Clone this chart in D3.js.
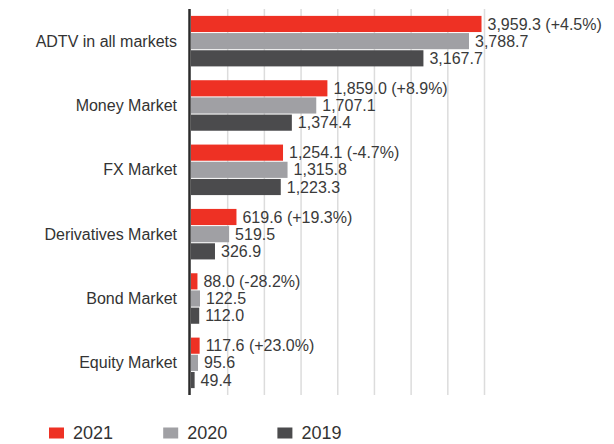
<!DOCTYPE html>
<html>
<head>
<meta charset="utf-8">
<script src="https://cdn.jsdelivr.net/npm/d3@7"></script>
<style>
  body { margin: 0; background: #fff; }
  svg { font-family: "Liberation Sans", Arial, sans-serif; }
</style>
</head>
<body>
<script>
// market categories, top to bottom
var categories = ["ADTV in all markets", "Money Market", "FX Market", "Derivatives Market", "Bond Market", "Equity Market"];
var years = ["2021", "2020", "2019"];
var values2021 = [3959.3, 1859.0, 1254.1, 619.6, 88.0, 117.6];
var values2020 = [3788.7, 1707.1, 1315.8, 519.5, 122.5, 95.6];
var values2019 = [3167.7, 1374.4, 1223.3, 326.9, 112.0, 49.4];
var gridTicks = [500, 1000, 1500, 2000, 2500, 3000, 3500, 4000];
var colors = ["#ee3124", "#a0a0a4", "#4b4b4d"];

var series = [values2021, values2020, values2019];

var width = 614, height = 444;

var svg = d3.select("body").append("svg")
    .attr("width", width)
    .attr("height", height);

var x = d3.scaleLinear()
    .domain([0, 4000])
    .range([191, 484.5]);

var y = d3.scaleBand()
    .domain(categories)
    .range([9, 395])
    .paddingInner(0.215)
    .paddingOuter(0.107);

var y1 = d3.scaleBand()
    .domain(years)
    .range([0, y.bandwidth()])
    .paddingInner(0.06);

var loc = d3.formatLocale({decimal: ".", thousands: ",", grouping: [3], currency: ["", ""], minus: "-"});
var fmtVal = loc.format(",.1f");
var fmtPct = loc.format("+.1%");

// gridlines
svg.append("g")
    .selectAll("line")
    .data(gridTicks)
  .enter().append("line")
    .attr("x1", function(d) { return x(d); })
    .attr("x2", function(d) { return x(d); })
    .attr("y1", 9)
    .attr("y2", 395)
    .attr("stroke", "#dcdcdc")
    .attr("stroke-width", 1.5);

// bars
years.forEach(function(yr, j) {
  var g = svg.append("g");
  g.selectAll("rect")
      .data(series[j])
    .enter().append("rect")
      .attr("x", x(0))
      .attr("y", function(d, i) { return y(categories[i]) + y1(yr); })
      .attr("width", function(d) { return x(d) - x(0); })
      .attr("height", y1.bandwidth())
      .attr("fill", colors[j]);

  g.selectAll("text")
      .data(series[j])
    .enter().append("text")
      .attr("x", function(d) { return x(d) + 6; })
      .attr("y", function(d, i) { return y(categories[i]) + y1(yr) + y1.bandwidth() / 2; })
      .attr("dy", "0.35em")
      .attr("font-size", 16)
      .attr("fill", "#3a3a3a")
      .text(function(d, i) {
        if (j == 0) return fmtVal(d) + " (" + fmtPct(d / values2020[i] - 1) + ")";
        return fmtVal(d);
      });
});

// left axis line
svg.append("line")
    .attr("x1", 189.5).attr("x2", 189.5)
    .attr("y1", 9).attr("y2", 395)
    .attr("stroke", "#2b2b2b")
    .attr("stroke-width", 2.5);

// category labels
svg.append("g")
    .selectAll("text")
    .data(categories)
  .enter().append("text")
    .attr("x", 177)
    .attr("y", function(d) { return y(d) + y.bandwidth() / 2; })
    .attr("dy", "0.35em")
    .attr("text-anchor", "end")
    .attr("font-size", 16)
    .attr("fill", "#333")
    .text(function(d) { return d; });

// legend
var legend = svg.append("g")
    .selectAll("g")
    .data(years)
  .enter().append("g")
    .attr("transform", function(d, i) { return "translate(" + (49 + i * 114.2) + ",427.5)"; });

legend.append("rect")
    .attr("width", 15)
    .attr("height", 11)
    .attr("fill", function(d, i) { return colors[i]; });

legend.append("text")
    .attr("x", 24)
    .attr("y", 11.5)
    .attr("font-size", 18)
    .attr("fill", "#333")
    .text(function(d) { return d; });
</script>
</body>
</html>
